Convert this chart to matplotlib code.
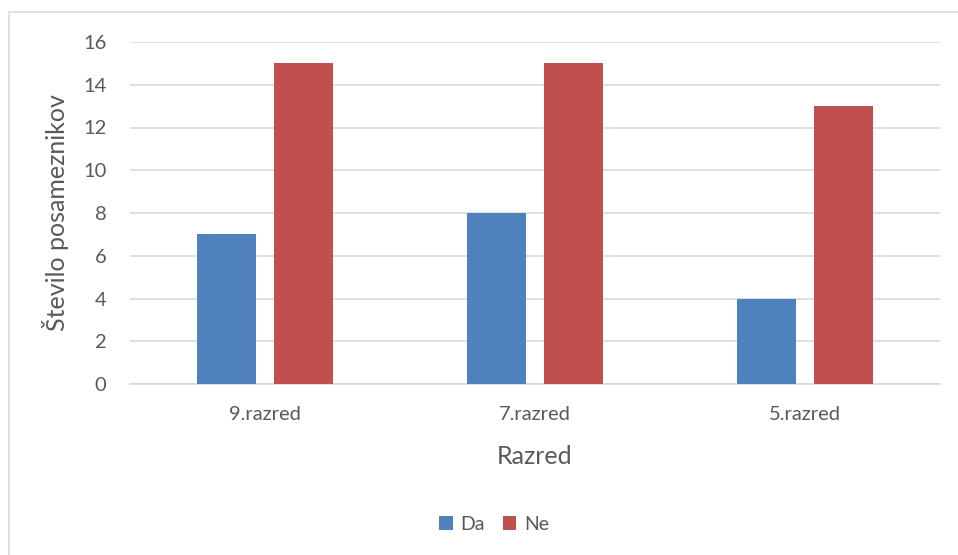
import matplotlib
matplotlib.use("Agg")
import matplotlib.pyplot as plt
import numpy as np
from matplotlib.patches import Rectangle

categories = ["9.razred", "7.razred", "5.razred"]
da = [7, 8, 4]
ne = [15, 15, 13]
yticks = [0, 2, 4, 6, 8, 10, 12, 14, 16]

plt.rcParams['font.family'] = ['Lato', 'DejaVu Sans']
text_col = "#595959"
blue = "#4F81BD"
red = "#C0504D"

fig = plt.figure(figsize=(9.58, 5.55), dpi=100)
fig.patches.append(Rectangle((9/958, -0.01), 1.0, 1 - 12/555 + 0.01,
                             transform=fig.transFigure, fill=False,
                             edgecolor="#D9D9D9", linewidth=1.2))
ax = fig.add_axes([130/958, 1 - 384/555, (940 - 130)/958, (384 - 42)/555])

x = np.arange(len(categories))
w = 0.222
off = 0.1426
ax.bar(x - off, da, w, color=blue, label="Da", zorder=3)
ax.bar(x + off, ne, w, color=red, label="Ne", zorder=3)

ax.set_xlim(-0.5, 2.5)
ax.set_ylim(0, 16)
ax.set_yticks(yticks)
ax.yaxis.grid(True, color="#D9D9D9", linewidth=1.2, zorder=0)
ax.set_axisbelow(True)
for s in ["top", "right", "left"]:
    ax.spines[s].set_visible(False)
ax.spines["bottom"].set_color("#D9D9D9")
ax.spines["bottom"].set_linewidth(1.2)
ax.set_xticks(x)
ax.set_xticklabels(categories)
ax.tick_params(axis="both", length=0, labelsize=14.5, colors=text_col)
ax.tick_params(axis="y", pad=17)
ax.tick_params(axis="x", pad=16)
ax.set_xlabel("Razred", fontsize=18, color=text_col, labelpad=16)
ax.set_ylabel("Število posameznikov", fontsize=18, color=text_col, labelpad=10)

fig.legend(loc="center", bbox_to_anchor=(494/958, 1 - 524/555), ncol=2,
           frameon=False, fontsize=14, labelcolor=text_col,
           handlelength=0.7, handleheight=0.7, handletextpad=0.4,
           columnspacing=0.9)

fig.savefig("out.png", dpi=100, facecolor="white")
